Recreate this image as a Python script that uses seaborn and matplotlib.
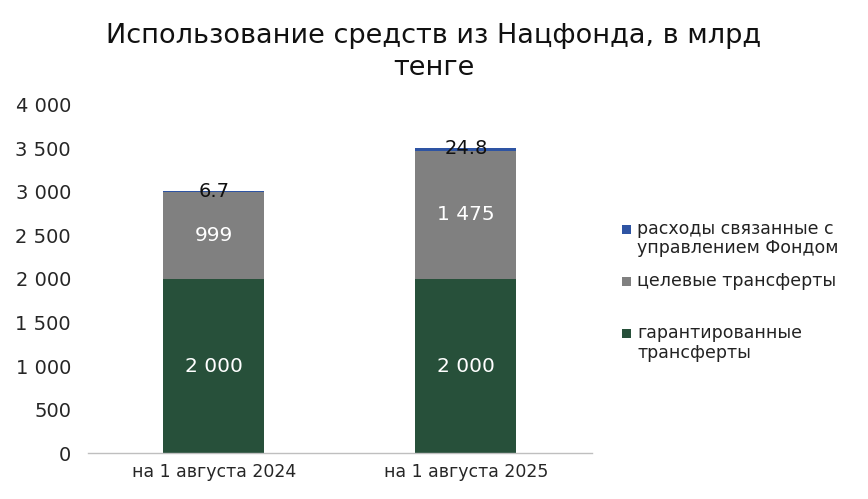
import matplotlib
matplotlib.use("Agg")
import matplotlib.pyplot as plt
import seaborn as sns
import pandas as pd
import numpy as np
from matplotlib.ticker import FuncFormatter, MultipleLocator
from matplotlib.patches import Rectangle

categories = ["на 1 августа 2024", "на 1 августа 2025"]
guaranteed = [2000, 2000]
targeted = [999, 1475]
management = [6.7, 24.8]
guaranteed_labels = ["2 000", "2 000"]
targeted_labels = ["999", "1 475"]
management_labels = ["6.7", "24.8"]
series_names = ["гарантированные\nтрансферты", "целевые трансферты",
                "расходы связанные с\nуправлением Фондом"]
colors = ["#27503A", "#808080", "#2E54A3"]

sns.set_theme(style="white")
plt.rcParams['font.family'] = ['DejaVu Sans']

df = pd.DataFrame({
    "cat": categories,
    "g": guaranteed,
    "gt": np.array(guaranteed) + np.array(targeted),
    "total": np.array(guaranteed) + np.array(targeted) + np.array(management),
})

W, H = 868, 499
fig = plt.figure(figsize=(W / 100, H / 100), dpi=100)
ax = fig.add_axes([0.101, 0.092, 0.581, 0.698])

sns.barplot(data=df, x="cat", y="total", color=colors[2], width=0.4, ax=ax,
            saturation=1, linewidth=0)
sns.barplot(data=df, x="cat", y="gt", color=colors[1], width=0.4, ax=ax,
            saturation=1, linewidth=0)
sns.barplot(data=df, x="cat", y="g", color=colors[0], width=0.4, ax=ax,
            saturation=1, linewidth=0)

for i in range(len(categories)):
    ax.text(i, guaranteed[i] / 2, guaranteed_labels[i], ha="center", va="center",
            color="white", fontsize=14.5)
    ax.text(i, guaranteed[i] + targeted[i] / 2, targeted_labels[i], ha="center",
            va="center", color="white", fontsize=14.5)
    ax.text(i, guaranteed[i] + targeted[i] + management[i], management_labels[i],
            ha="center", va="center", color="#111111", fontsize=14)

ax.set_ylim(0, 4000)
ax.set_xlim(-0.5, 1.5)
ax.yaxis.set_major_locator(MultipleLocator(500))
ax.yaxis.set_major_formatter(FuncFormatter(lambda v, p: f"{int(v):,}".replace(",", " ")))
ax.set_xlabel("")
ax.set_ylabel("")
for s in ["top", "right", "left"]:
    ax.spines[s].set_visible(False)
ax.spines["bottom"].set_color("#BFBFBF")
ax.spines["bottom"].set_linewidth(1)
ax.tick_params(axis="both", length=0, colors="#262626")
ax.tick_params(axis="y", pad=12, labelsize=14)
ax.tick_params(axis="x", pad=7, labelsize=12.5)

fig.text(0.5, 1 - 52 / H, "Использование средств из Нацфонда, в млрд\nтенге",
         ha="center", va="center", fontsize=19.5, color="#111111", linespacing=1.3)

# legend drawn manually in figure coordinates
legend_rows = [
    (series_names[2], colors[2], [229, 248]),
    (series_names[1], colors[1], [281]),
    (series_names[0], colors[0], [333, 353]),
]
for name, col, ys in legend_rows:
    lines = name.split("\n")
    sz = 9
    fig.add_artist(Rectangle(((626 - sz / 2) / W, 1 - (ys[0] + sz / 2) / H), sz / W, sz / H,
                             transform=fig.transFigure, color=col, linewidth=0))
    for line, y in zip(lines, ys):
        fig.text(637 / W, 1 - y / H, line, ha="left", va="center", fontsize=12.5,
                 color="#222222")

fig.savefig("out.png", dpi=100)
